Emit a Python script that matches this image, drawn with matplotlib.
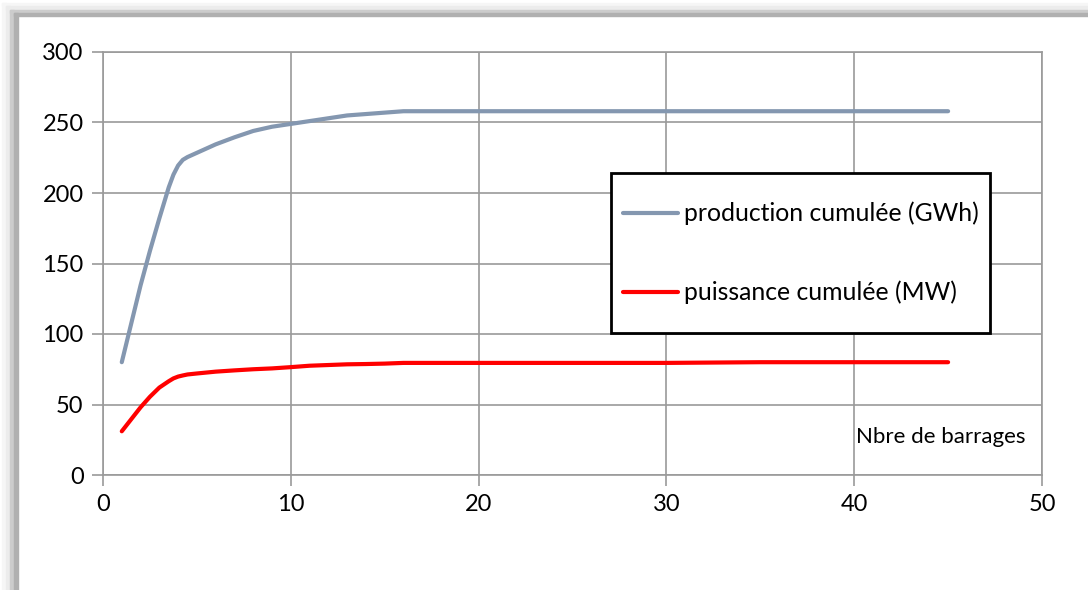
import numpy as np
import matplotlib
matplotlib.use("Agg")
import matplotlib.pyplot as plt
from matplotlib.patches import Rectangle

# donnees
nb_barrages = [1, 2, 2.5, 3, 3.5, 3.75, 4, 4.25, 4.5, 5, 6, 7, 8, 9, 10, 11, 12, 13, 14, 15, 16,
               20, 25, 30, 35, 40, 45]
production = [80, 134.5, 159, 182, 204, 213, 219.5, 223.5, 225.5, 228.5, 234.5, 239.5, 244, 247, 249,
              251, 253, 255, 256, 257, 258, 258, 258, 258, 258, 258, 258]
puissance = [31, 48, 55.5, 62, 66.5, 68.5, 69.8, 70.6, 71.3, 72, 73.3, 74.2, 75, 75.6, 76.5,
             77.5, 78, 78.5, 78.7, 79, 79.5, 79.5, 79.5, 79.5, 80, 80, 80]

xticks = [0, 10, 20, 30, 40, 50]
yticks = [0, 50, 100, 150, 200, 250, 300]

plt.rcParams['font.family'] = ['Lato', 'DejaVu Sans']

fig = plt.figure(figsize=(10.88, 5.90), dpi=100)

# ombre du cadre (style Excel) a gauche et en haut
shades = ['#f6f6f6', '#ececec', '#cccccc', '#b0b0b0']
for i, col in enumerate(shades):
    fig.patches.append(Rectangle(((2 + 4 * i) / 1088, 0), 4 / 1088, 1 - (3 + 3.3 * i) / 590,
                                 transform=fig.transFigure, color=col, zorder=0))
    fig.patches.append(Rectangle(((2 + 4 * i) / 1088, 1 - (3 + 3.3 * i) / 590 - 3.3 / 590),
                                 1, 3.3 / 590, transform=fig.transFigure, color=col, zorder=0))

ax = fig.add_axes([103 / 1088, 1 - 475 / 590, 939 / 1088, 423 / 590])

ax.plot(nb_barrages, production, color='#8497b0', linewidth=3.0, label='production cumulée (GWh)',
        solid_capstyle='round', solid_joinstyle='round')
ax.plot(nb_barrages, puissance, color='#ff0000', linewidth=3.0, label='puissance cumulée (MW)',
        solid_capstyle='round', solid_joinstyle='round')

ax.set_xlim(0, 50)
ax.set_ylim(0, 300)
ax.set_xticks(xticks)
ax.set_yticks(yticks)
ax.grid(True, color='#9a9a9a', linewidth=1.2)
ax.set_axisbelow(True)
for s in ax.spines.values():
    s.set_color('#9a9a9a')
    s.set_linewidth(1.2)
ax.tick_params(length=8, width=1.2, color='#9a9a9a', labelsize=17, pad=6)

ax.text(40.1, 27, 'Nbre de barrages', fontsize=16, va='center', ha='left')

# cadre de la legende
bx, by, bw, bh = 508 / 939, 142 / 423, 379 / 939, 160 / 423
ax.add_patch(Rectangle((bx, by), bw, bh, transform=ax.transAxes, facecolor='white',
                       edgecolor='black', linewidth=2, zorder=5))
leg = ax.legend(loc='center left', bbox_to_anchor=(bx, by + bh / 2), frameon=False, fontsize=17.8,
                handlelength=2.2, handletextpad=0.25, labelspacing=2.25, borderpad=0.5,
                borderaxespad=0)
leg.set_zorder(6)

fig.savefig('out.png', dpi=100)
